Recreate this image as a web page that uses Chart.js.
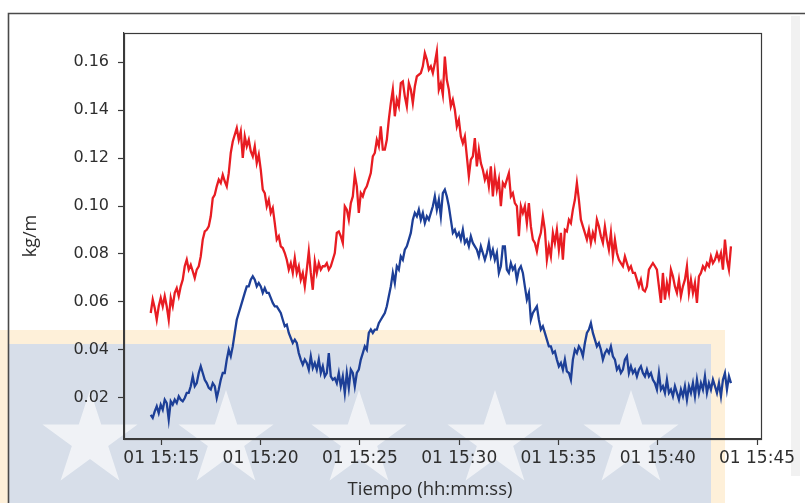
<!DOCTYPE html>
<html>
<head>
<meta charset="utf-8">
<script src="https://cdn.jsdelivr.net/npm/chart.js@4.4.1/dist/chart.umd.min.js"></script>
<style>
  html, body { margin: 0; padding: 0; background: #ffffff; }
  #wrap { position: relative; width: 805px; height: 503px; }
  canvas { display: block; }
</style>
</head>
<body>
<div id="wrap"><canvas id="chart" width="805" height="503"></canvas></div>
<script>
// Sampling of the logger: first sample at 15:14:28, one sample every ~6 s
const SAMPLE_START_MIN = 14.466;   // minutes after 15:00
const SAMPLE_STEP_MIN = 0.10076;

// Series values (kg/m)
const redValues = [
  0.0554,0.0610,0.0575,0.0526,0.0582,0.0617,0.0582,0.0624,0.0582,0.0526,
  0.0617,0.0582,0.0638,0.0658,0.0624,0.0665,0.0693,0.0749,0.0776,0.0735,
  0.0755,0.0728,0.0700,0.0735,0.0749,0.0790,0.0860,0.0894,0.0901,0.0915,
  0.0957,0.1033,0.1047,0.1082,0.1110,0.1096,0.1130,0.1103,0.1082,0.1137,
  0.1221,0.1269,0.1297,0.1325,0.1276,0.1311,0.1200,0.1290,0.1249,0.1276,
  0.1228,0.1207,0.1249,0.1179,0.1214,0.1151,0.1068,
  0.1054,0.0999,0.1026,0.0971,0.0992,0.0929,0.0860,0.0874,0.0832,0.0825,
  0.0804,0.0776,0.0735,0.0762,0.0721,0.0783,0.0721,0.0749,0.0693,0.0721,
  0.0665,0.0735,0.0811,0.0721,0.0651,0.0769,0.0721,0.0762,0.0735,0.0749,
  0.0749,0.0762,0.0735,0.0749,0.0776,0.0804,0.0888,0.0894,0.0874,0.0846,
  0.0999,0.0985,0.0943,0.1012,0.1040,0.1130,0.1082,0.0971,0.1054,0.1040,
  0.1068,0.1082,0.1110,0.1137,0.1207,0.1221,0.1276,0.1249,0.1332,0.1235,
  0.1235,0.1276,0.1360,0.1429,0.1485,0.1374,0.1443,0.1415,0.1512,0.1519,
  0.1457,0.1415,0.1512,0.1485,0.1429,0.1498,0.1540,0.1547,0.1554,0.1582,
  0.1637,0.1610,0.1568,0.1582,0.1554,0.1596,0.1644,0.1485,0.1512,0.1464,
  0.1623,0.1526,0.1485,0.1415,0.1443,0.1401,0.1332,0.1360,0.1290,0.1262,
  0.1290,0.1207,0.1124,0.1193,0.1207,0.1283,0.1165,0.1235,0.1179,0.1151,
  0.1110,0.1137,0.1082,0.1165,0.1040,0.1137,0.1068,0.1110,0.0999,0.1096,
  0.1082,0.1110,0.1137,0.1040,0.1054,0.1012,0.0999,0.0874,0.0999,0.0971,
  0.0999,0.0929,0.1012,0.0915,0.0860,0.0846,0.0811,0.0860,0.0888,0.0957,
  0.0901,0.0776,0.0832,0.0790,0.0888,0.0846,0.0901,0.0818,0.0888,0.0776,
  0.0901,0.0894,0.0943,0.0929,0.0985,0.1026,0.1096,0.1026,0.0943,0.0915,
  0.0888,0.0860,0.0901,0.0846,0.0888,0.0860,0.0943,0.0915,0.0874,0.0846,
  0.0915,0.0860,0.0818,0.0888,0.0790,0.0860,0.0804,0.0776,0.0762,0.0749,
  0.0790,0.0762,0.0735,0.0749,0.0721,0.0721,0.0693,0.0665,0.0693,0.0651,
  0.0644,0.0665,0.0735,0.0749,0.0762,0.0749,0.0735,0.0665,0.0596,0.0721,
  0.0610,0.0679,0.0638,0.0735,0.0707,0.0665,0.0638,0.0693,0.0624,0.0665,
  0.0693,0.0749,0.0638,0.0693,0.0638,0.0679,0.0596,0.0707,0.0721,0.0749,
  0.0735,0.0762,0.0749,0.0790,0.0762,0.0776,0.0804,0.0776,0.0804,0.0735,
  0.0860,0.0776,0.0735,0.0832
];

const blueValues = [
  0.0130,0.0117,0.0144,0.0165,0.0137,0.0172,0.0151,0.0193,0.0179,0.0110,
  0.0186,0.0172,0.0193,0.0179,0.0207,0.0193,0.0186,0.0200,0.0221,0.0221,
  0.0249,0.0290,0.0249,0.0262,0.0304,0.0332,0.0304,0.0276,0.0262,0.0242,
  0.0235,0.0262,0.0249,0.0200,0.0235,0.0276,0.0304,0.0304,0.0360,0.0401,
  0.0374,0.0415,0.0471,0.0526,0.0554,0.0582,0.0610,0.0638,0.0665,0.0665,
  0.0693,0.0707,0.0693,0.0665,0.0679,0.0665,0.0638,
  0.0658,0.0638,0.0638,0.0617,0.0596,0.0582,0.0582,0.0568,0.0554,0.0526,
  0.0499,0.0505,0.0471,0.0450,0.0429,0.0443,0.0429,0.0387,0.0360,0.0339,
  0.0360,0.0346,0.0318,0.0374,0.0325,0.0346,0.0318,0.0360,0.0304,0.0332,
  0.0290,0.0304,0.0387,0.0290,0.0276,0.0283,0.0262,0.0304,0.0249,0.0290,
  0.0221,0.0304,0.0242,0.0318,0.0304,0.0249,0.0304,0.0318,0.0360,0.0387,
  0.0415,0.0401,0.0471,0.0485,0.0471,0.0485,0.0485,0.0512,0.0526,0.0540,
  0.0554,0.0582,0.0624,0.0665,0.0721,0.0679,0.0749,0.0735,0.0790,0.0776,
  0.0818,0.0832,0.0860,0.0888,0.0943,0.0971,0.0957,0.0985,0.0943,0.0971,
  0.0929,0.0957,0.0943,0.0971,0.0999,0.1040,0.0985,0.1026,0.0957,0.1054,
  0.1068,0.1040,0.0999,0.0943,0.0888,0.0901,0.0874,0.0888,0.0860,0.0901,
  0.0846,0.0860,0.0832,0.0874,0.0846,0.0832,0.0818,0.0790,0.0832,0.0804,
  0.0776,0.0804,0.0846,0.0790,0.0818,0.0776,0.0804,0.0721,0.0749,0.0832,
  0.0832,0.0735,0.0721,0.0762,0.0735,0.0749,0.0693,0.0735,0.0749,0.0721,
  0.0665,0.0610,0.0638,0.0526,0.0554,0.0568,0.0582,0.0526,0.0485,0.0499,
  0.0471,0.0443,0.0415,0.0415,0.0387,0.0394,0.0360,0.0332,0.0346,0.0318,
  0.0360,0.0311,0.0304,0.0276,0.0360,0.0401,0.0387,0.0415,0.0401,0.0374,
  0.0429,0.0471,0.0485,0.0512,0.0471,0.0443,0.0415,0.0429,0.0401,0.0360,
  0.0387,0.0401,0.0387,0.0415,0.0374,0.0360,0.0318,0.0332,0.0304,0.0318,
  0.0360,0.0374,0.0304,0.0332,0.0304,0.0318,0.0290,0.0318,0.0332,0.0304,
  0.0290,0.0318,0.0290,0.0304,0.0276,0.0262,0.0235,0.0304,0.0235,0.0249,
  0.0221,0.0276,0.0221,0.0235,0.0207,0.0249,0.0221,0.0193,0.0235,0.0207,
  0.0249,0.0193,0.0249,0.0221,0.0262,0.0207,0.0276,0.0221,0.0262,0.0235,
  0.0290,0.0221,0.0262,0.0235,0.0276,0.0249,0.0221,0.0262,0.0207,0.0276,
  0.0304,0.0235,0.0290,0.0262
];

// Axis ticks
const xTickMinutes = [15, 20, 25, 30, 35, 40, 45];
const yTickValues = [0.02, 0.04, 0.06, 0.08, 0.10, 0.12, 0.14, 0.16];
const xAxisTitle = 'Tiempo (hh:mm:ss)';
const yAxisTitle = 'kg/m';

const toPoints = vals => vals.map((v, i) => ({ x: SAMPLE_START_MIN + i * SAMPLE_STEP_MIN, y: v }));

const TICK_FONT = "'DejaVu Sans', sans-serif";
const TITLE_FONT = "'Open Sans', 'Noto Sans', sans-serif";
const AXIS_COLOR = '#3a3a3a';
const TEXT_COLOR = '#2e2e2e';

function starPath(ctx, cx, cy, R) {
  const r = R * 0.382;
  ctx.beginPath();
  for (let k = 0; k < 10; k++) {
    const rad = k % 2 === 0 ? R : r;
    const a = -Math.PI / 2 + k * Math.PI / 5;
    const px = cx + rad * Math.cos(a), py = cy + rad * Math.sin(a);
    if (k === 0) ctx.moveTo(px, py); else ctx.lineTo(px, py);
  }
  ctx.closePath();
}

// Page frame and the pale banner behind the lower part of the figure
const backdropPlugin = {
  id: 'backdrop',
  beforeDraw(chart) {
    const ctx = chart.ctx;
    ctx.save();
    ctx.fillStyle = '#f1f1f1';
    ctx.fillRect(791, 16, 9, 460);

    ctx.fillStyle = 'rgba(252, 196, 110, 0.26)';
    ctx.beginPath();
    ctx.rect(0, 330, 725, 173);
    ctx.rect(8, 344, 703, 159);
    ctx.fill('evenodd');
    ctx.fillStyle = 'rgba(40, 82, 140, 0.19)';
    ctx.fillRect(8, 344, 703, 159);
    ctx.fillStyle = 'rgba(255, 255, 255, 0.62)';
    [90, 226, 359, 495, 631].forEach(cx => { starPath(ctx, cx, 440, 50); ctx.fill(); });

    ctx.strokeStyle = '#4a4a4a';
    ctx.lineWidth = 1.6;
    ctx.beginPath();
    ctx.moveTo(8.5, 503);
    ctx.lineTo(8.5, 13.5);
    ctx.lineTo(805, 13.5);
    ctx.stroke();
    ctx.restore();
  }
};

// Closed axes box and the time-axis caption
const boxPlugin = {
  id: 'box',
  beforeDatasetsDraw(chart) {
    const ctx = chart.ctx;
    const a = chart.chartArea;
    ctx.save();
    ctx.strokeStyle = AXIS_COLOR;
    ctx.lineWidth = 1.2;
    ctx.strokeRect(Math.round(a.left) + 0.5, Math.round(a.top) + 0.5,
                   Math.round(a.right - a.left), Math.round(a.bottom - a.top));
    ctx.restore();
  },
  afterDraw(chart) {
    const ctx = chart.ctx;
    ctx.save();
    ctx.fillStyle = TEXT_COLOR;
    ctx.font = '18.5px ' + TITLE_FONT;
    ctx.textAlign = 'center';
    ctx.textBaseline = 'middle';
    ctx.fillText(xAxisTitle, 430, 490);
    ctx.restore();
  }
};

new Chart(document.getElementById('chart'), {
  type: 'line',
  data: {
    datasets: [
      { label: 'rojo', data: toPoints(redValues), borderColor: '#e81c22', borderWidth: 2.3,
        pointRadius: 0, tension: 0, fill: false },
      { label: 'azul', data: toPoints(blueValues), borderColor: '#1d3f97', borderWidth: 2.3,
        pointRadius: 0, tension: 0, fill: false }
    ]
  },
  options: {
    responsive: false,
    animation: false,
    devicePixelRatio: 1,
    layout: { padding: { top: 33, right: 44, left: 0, bottom: 0 } },
    plugins: { legend: { display: false }, tooltip: { enabled: false } },
    scales: {
      x: {
        type: 'linear',
        min: 13.12,
        max: 45.2,
        afterBuildTicks: s => { s.ticks = xTickMinutes.map(v => ({ value: v })); },
        afterFit: s => { s.height = 64; },
        ticks: {
          callback: v => '01 15:' + String(v).padStart(2, '0'),
          font: { family: TICK_FONT, size: 17 },
          color: TEXT_COLOR,
          padding: 3,
          maxRotation: 0,
          autoSkip: false
        },
        grid: { drawOnChartArea: false, drawTicks: true, tickLength: 6, color: AXIS_COLOR, tickColor: AXIS_COLOR, tickWidth: 1.2 },
        border: { display: true, color: AXIS_COLOR, width: 1.2 },
        title: { display: false }
      },
      y: {
        type: 'linear',
        min: 0.0029,
        max: 0.1721,
        afterBuildTicks: s => { s.ticks = yTickValues.map(v => ({ value: v })); },
        afterFit: s => { s.width = 124; },
        ticks: {
          callback: v => v.toFixed(2),
          font: { family: TICK_FONT, size: 16 },
          color: TEXT_COLOR,
          padding: 9
        },
        grid: { drawOnChartArea: false, drawTicks: true, tickLength: 6, color: AXIS_COLOR, tickColor: AXIS_COLOR, tickWidth: 1.2 },
        border: { display: true, color: AXIS_COLOR, width: 1.2 },
        title: { display: true, text: yAxisTitle, color: TEXT_COLOR,
                 font: { family: TITLE_FONT, size: 18 }, padding: { top: 20, bottom: 0 } }
      }
    }
  },
  plugins: [backdropPlugin, boxPlugin]
});
</script>
</body>
</html>
